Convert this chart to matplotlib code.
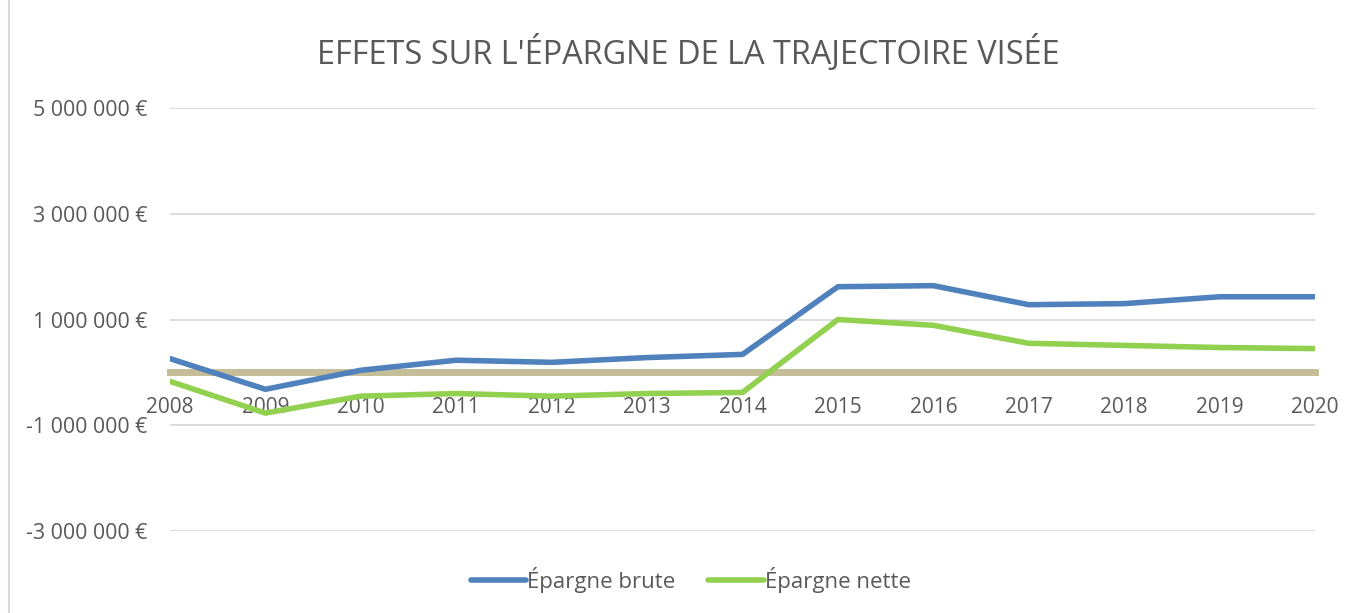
import numpy as np
import matplotlib.pyplot as plt
from matplotlib.patches import Rectangle
from matplotlib.ticker import FuncFormatter

# Données
annees = ['2008', '2009', '2010', '2011', '2012', '2013', '2014',
          '2015', '2016', '2017', '2018', '2019', '2020']
epargne_brute = [260000, -320000, 40000, 230000, 190000, 280000, 340000,
                 1620000, 1640000, 1280000, 1300000, 1430000, 1430000]
epargne_nette = [-170000, -770000, -450000, -400000, -450000, -400000, -380000,
                 1000000, 890000, 550000, 510000, 470000, 450000]
graduations = [-3000000, -1000000, 1000000, 3000000, 5000000]

plt.rcParams['font.family'] = ['Open Sans', 'DejaVu Sans']
gris = '#595959'

fig = plt.figure(figsize=(13.57, 6.13), dpi=100)
fig.patches.append(Rectangle((9 / 1357, -0.1), 1.2, 1.2, transform=fig.transFigure,
                             fill=False, edgecolor='#D9D9D9', linewidth=1.5))
ax = fig.add_axes([170 / 1357, 1 - 531 / 613, (1315 - 170) / 1357, (531 - 108) / 613])

x = np.arange(len(annees))
ax.plot(x, epargne_brute, color='#4F81BD', linewidth=4, label='Épargne brute',
        solid_capstyle='round', zorder=4)
ax.plot(x, epargne_nette, color='#92D050', linewidth=4, label='Épargne nette',
        solid_capstyle='round', zorder=4)

ax.set_xlim(0, len(annees) - 1)
ax.set_ylim(-3000000, 5000000)
ax.set_yticks(graduations)
ax.yaxis.set_major_formatter(FuncFormatter(
    lambda v, p: '{:,.0f} €'.format(v).replace(',', ' ')))
ax.grid(axis='y', color='#D9D9D9', linewidth=1.3)
ax.set_axisbelow(True)

for s in ['top', 'right', 'left']:
    ax.spines[s].set_visible(False)
ax.spines['bottom'].set_position(('data', 0))
ax.spines['bottom'].set_color('#C4BD97')
ax.spines['bottom'].set_linewidth(5)
ax.spines['bottom'].set_zorder(3)

ax.set_xticks(x)
ax.set_xticklabels(annees)
ax.tick_params(axis='x', length=0, pad=18, labelsize=15, labelcolor=gris)
ax.tick_params(axis='y', length=0, pad=16, labelsize=15.4, labelcolor=gris)

fig.text(0.507, 0.913, "EFFETS SUR L'ÉPARGNE DE LA TRAJECTOIRE VISÉE",
         ha='center', va='center', fontsize=23.4, color=gris)

fig.legend(loc='center', bbox_to_anchor=(0.509, 1 - 580 / 613), ncol=2, frameon=False,
           fontsize=16, labelcolor=gris, handlelength=2.5, handletextpad=0.05,
           columnspacing=1.45)

fig.savefig('out.png', dpi=100)
